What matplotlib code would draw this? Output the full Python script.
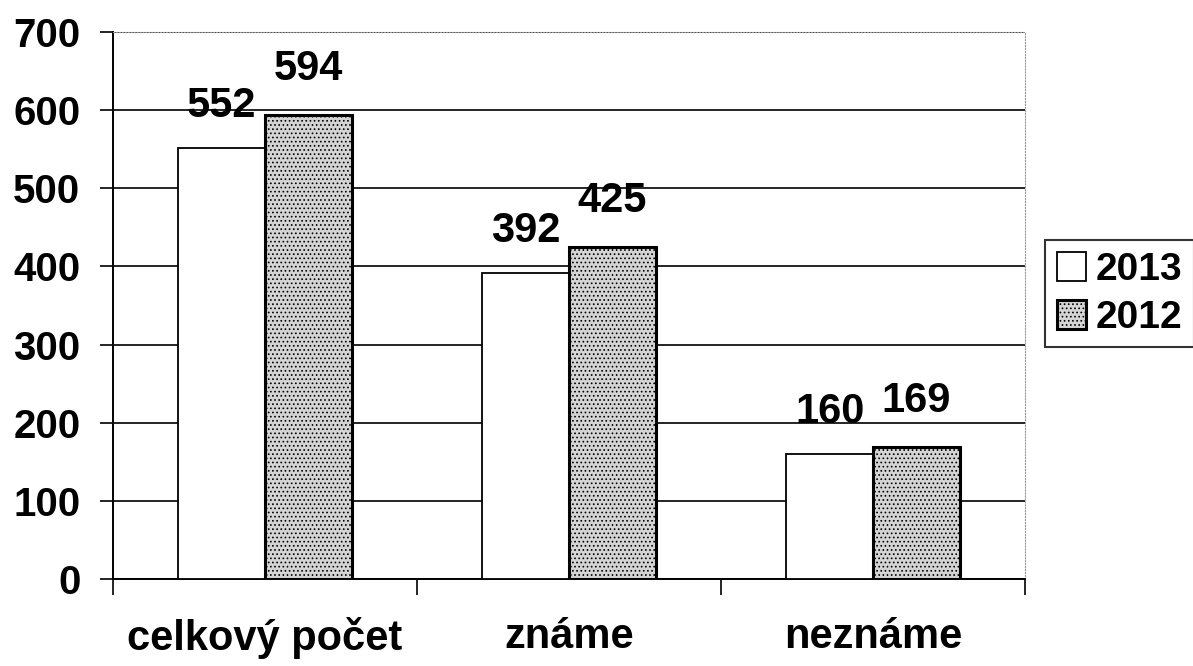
import matplotlib
matplotlib.use("Agg")
import matplotlib.pyplot as plt
import numpy as np

categories = ["celkový počet", "známe", "neznáme"]
years = ["2013", "2012"]
values_2013 = [552, 392, 160]
values_2012 = [594, 425, 169]

plt.rcParams['font.family'] = ['Liberation Sans', 'DejaVu Sans']
plt.rcParams['hatch.linewidth'] = 0.7

fig = plt.figure(figsize=(11.93, 6.66), dpi=100)
ax = fig.add_axes([0.0947, 0.1306, 0.7645, 0.8214])

x = np.arange(len(categories))
w = 0.285
b1 = ax.bar(x - w/2, values_2013, w, facecolor='white', edgecolor='black', linewidth=1.3, label=years[0], zorder=3)
b2 = ax.bar(x + w/2, values_2012, w, facecolor='#d4d4d4', edgecolor='black', linewidth=2.2,
            hatch='....', label=years[1], zorder=3)

for bars, vals, off in ((b1, values_2013, 22), (b2, values_2012, 26)):
    for r, v in zip(bars, vals):
        ax.annotate(str(v), (r.get_x() + r.get_width()/2, v), xytext=(0, off),
                    textcoords='offset pixels',
                    ha='center', va='bottom', fontsize=30, fontweight='bold')

ax.set_xlim(-0.5, 2.5)
ax.set_ylim(0, 700)
ax.set_yticks(range(0, 701, 100))
ax.set_yticklabels([str(v) for v in range(0, 701, 100)], fontsize=29, fontweight='bold')
ax.yaxis.grid(True, color='black', linewidth=1.2, zorder=0)
ax.set_axisbelow(True)

ax.set_xticks(x)
ax.set_xticklabels(categories, fontsize=30, fontweight='bold')
ax.tick_params(axis='x', length=0, pad=27)
ax.set_xticks([-0.5, 0.5, 1.5, 2.5], minor=True)
ax.tick_params(axis='x', which='minor', length=11.5, width=1.2, direction='out')
ax.tick_params(axis='y', length=9.5, width=1.2, pad=14)

for s in ['top', 'right']:
    ax.spines[s].set_color('#999999')
    ax.spines[s].set_linestyle(':')
    ax.spines[s].set_linewidth(0.8)
ax.spines['left'].set_linewidth(1.4)
ax.spines['bottom'].set_linewidth(1.4)

leg = fig.legend(handles=[b1, b2], labels=years, loc='center left',
                 bbox_to_anchor=(1045/1193, 1 - 294/666), frameon=True, fancybox=False,
                 edgecolor='black', prop={'weight': 'bold', 'size': 28},
                 handlelength=0.75, handleheight=0.75, handletextpad=0.25, borderpad=0.3,
                 labelspacing=0.3, borderaxespad=0)
leg.get_frame().set_linewidth(1.5)

fig.savefig("out.png", dpi=100, facecolor='white')
